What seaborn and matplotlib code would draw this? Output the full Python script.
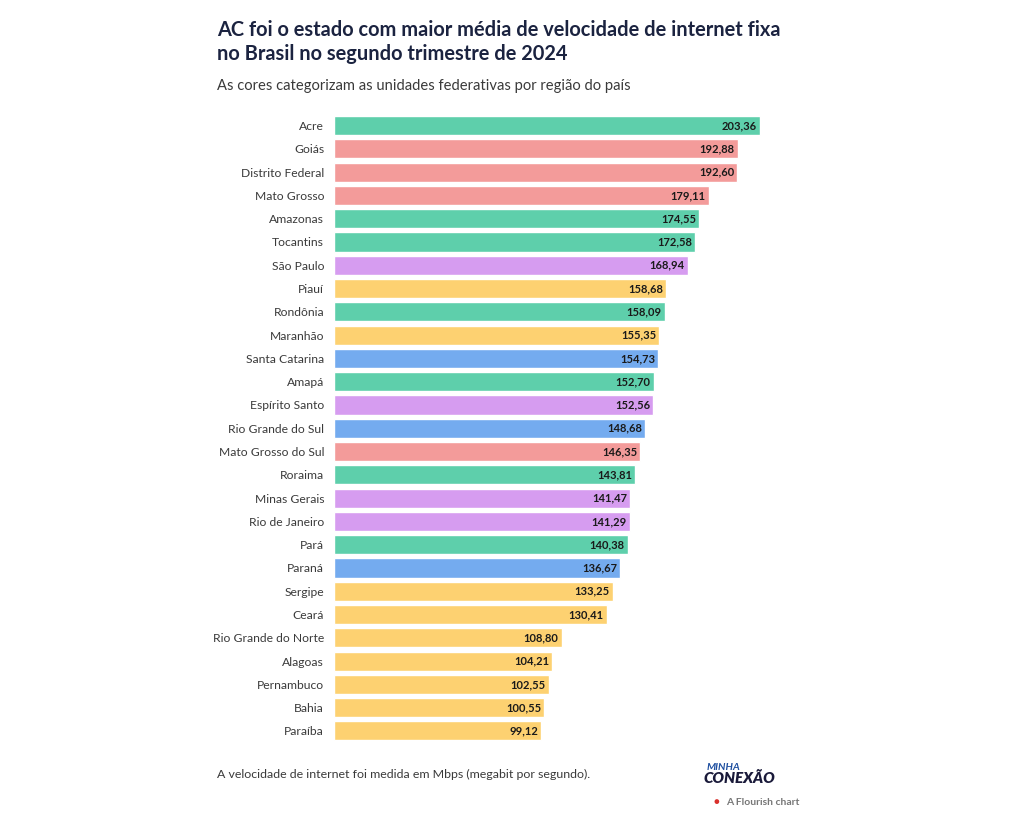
import pandas as pd
import seaborn as sns
import matplotlib.pyplot as plt

# data
estados = ['Acre', 'Goiás', 'Distrito Federal', 'Mato Grosso', 'Amazonas', 'Tocantins',
           'São Paulo', 'Piauí', 'Rondônia', 'Maranhão', 'Santa Catarina', 'Amapá',
           'Espírito Santo', 'Rio Grande do Sul', 'Mato Grosso do Sul', 'Roraima',
           'Minas Gerais', 'Rio de Janeiro', 'Pará', 'Paraná', 'Sergipe', 'Ceará',
           'Rio Grande do Norte', 'Alagoas', 'Pernambuco', 'Bahia', 'Paraíba']
velocidade = [203.36, 192.88, 192.60, 179.11, 174.55, 172.58, 168.94, 158.68, 158.09,
              155.35, 154.73, 152.70, 152.56, 148.68, 146.35, 143.81, 141.47, 141.29,
              140.38, 136.67, 133.25, 130.41, 108.80, 104.21, 102.55, 100.55, 99.12]
regiao = ['Norte', 'Centro-Oeste', 'Centro-Oeste', 'Centro-Oeste', 'Norte', 'Norte',
          'Sudeste', 'Nordeste', 'Norte', 'Nordeste', 'Sul', 'Norte',
          'Sudeste', 'Sul', 'Centro-Oeste', 'Norte',
          'Sudeste', 'Sudeste', 'Norte', 'Sul', 'Nordeste', 'Nordeste',
          'Nordeste', 'Nordeste', 'Nordeste', 'Nordeste', 'Nordeste']

cores = {'Norte': '#5ecfab', 'Centro-Oeste': '#f39b9a', 'Sudeste': '#d69cf0',
         'Nordeste': '#fdd171', 'Sul': '#74abef'}

df = pd.DataFrame({'estado': estados, 'velocidade': velocidade, 'regiao': regiao})

sns.set_theme(style='white')
plt.rcParams['font.family'] = ['Lato', 'DejaVu Sans']

fig = plt.figure(figsize=(10.24, 8.23), dpi=100)
ax = fig.add_axes([0.326, 0.0977, 0.455, 0.7639])

sns.barplot(data=df, x='velocidade', y='estado', hue='regiao', palette=cores,
            dodge=False, legend=False, width=0.82, saturation=1, ax=ax)

ax.set_xlim(0, 222.4)
ax.set_ylim(26.5, -0.5)
ax.set_xlabel('')
ax.set_ylabel('')
ax.set_xticks([])
for s in ax.spines.values():
    s.set_visible(False)
ax.tick_params(axis='y', length=0, pad=7, labelsize=8.7, labelcolor='#3a3a3a')

# value labels inside the bar ends
for i, v in enumerate(velocidade):
    ax.text(v - 1.5, i, f'{v:.2f}'.replace('.', ','), ha='right', va='center',
            fontsize=8, fontweight='bold', color='#1a1a1a')

fig.text(0.212, 0.963, 'AC foi o estado com maior média de velocidade de internet fixa',
         fontsize=14.4, fontweight='bold', color='#1b2340', va='center')
fig.text(0.212, 0.934, 'no Brasil no segundo trimestre de 2024',
         fontsize=14.4, fontweight='bold', color='#1b2340', va='center')
fig.text(0.212, 0.896, 'As cores categorizam as unidades federativas por região do país',
         fontsize=10.6, color='#3a3a3a', va='center')

fig.text(0.212, 0.059, 'A velocidade de internet foi medida em Mbps (megabit por segundo).',
         fontsize=8.9, color='#3a3a3a', va='center')
fig.text(0.690, 0.068, 'MINHA', fontsize=7.5, fontweight='bold', style='italic',
         color='#1e4fa0', va='center')
fig.text(0.687, 0.055, 'CONEXÃO', fontsize=11, fontweight='heavy', style='italic',
         color='#1a1a3a', va='center')
fig.text(0.697, 0.025, '●', fontsize=7, color='#d9302c', va='center')
fig.text(0.709, 0.025, 'A Flourish chart', fontsize=7.5, fontweight='bold',
         color='#777777', va='center')

fig.savefig('out.png', dpi=100, facecolor='white')
